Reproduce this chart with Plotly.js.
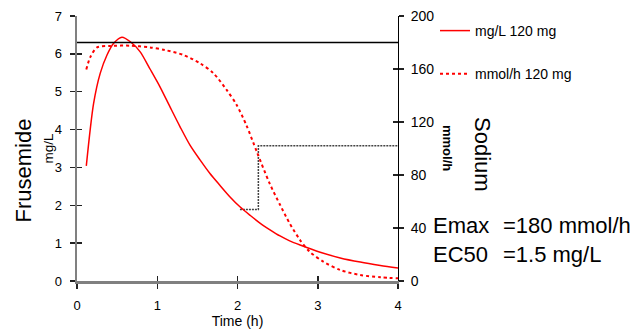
<!DOCTYPE html>
<html>
<head>
<meta charset="utf-8">
<script src="https://cdn.plot.ly/plotly-3.0.1.min.js"></script>
<style>html,body{margin:0;padding:0;background:#fff;}#chart{width:637px;height:333px;}</style>
</head>
<body>
<div id="chart"></div>
<script>
// Frusemide concentration (mg/L, left axis)
const concTime = [0.116, 0.207, 0.29, 0.374, 0.457, 0.56, 0.665, 0.785, 0.91, 1.034, 1.159, 1.283, 1.408, 1.533, 1.657, 1.78, 1.907, 2.03, 2.16, 2.28, 2.40, 2.53, 2.65, 2.78, 3.03, 3.28, 3.53, 3.78, 4.0];
const concMgL = [3.04, 4.69, 5.49, 5.97, 6.28, 6.44, 6.32, 6.06, 5.60, 5.13, 4.60, 4.08, 3.59, 3.20, 2.84, 2.53, 2.22, 1.96, 1.73, 1.53, 1.36, 1.19, 1.06, 0.95, 0.76, 0.61, 0.50, 0.41, 0.34];
// Sodium excretion rate (mmol/h, right axis)
const sodTime = [0.116, 0.166, 0.25, 0.415, 0.665, 0.91, 1.097, 1.325, 1.533, 1.70, 1.865, 1.99, 2.11, 2.24, 2.40, 2.53, 2.65, 2.78, 2.90, 3.07, 3.28, 3.53, 3.78, 4.0];
const sodMmolH = [159.7, 169, 176.3, 177.4, 177.6, 176.3, 174.3, 170.6, 164.3, 156.8, 144.2, 132.8, 117.7, 97.6, 73.7, 57.5, 43.5, 30.9, 22.1, 14.6, 8.3, 4.5, 2.8, 2.0];
// Emax reference line (mmol/h)
const emaxTime = [0, 4];
const emaxLevel = [180, 180];
// EC50 step marker (mg/L)
const stepTime = [2.03, 2.26, 2.26, 4];
const stepMgL = [1.89, 1.89, 3.57, 3.57];
// Labels
const seriesNames = ["mg/L 120 mg", "mmol/h 120 mg"];
const xTicks = [0, 1, 2, 3, 4];
const yLeftTicks = [0, 1, 2, 3, 4, 5, 6, 7];
const yRightTicks = [0, 40, 80, 120, 160, 200];
const paramNames = ["Emax", "EC50"];
const paramValues = ["=180 mmol/h", "=1.5 mg/L"];

const FONT = "Liberation Sans, Arial, sans-serif";
// plot area in pixels
const L = 77, R = 398, T = 16, B = 281;
const px = v => (v - L) / (R - L);
const py = v => (B - v) / (B - T);

const traces = [
  {x: emaxTime, y: emaxLevel, xaxis: 'x', yaxis: 'y2', mode: 'lines',
   line: {color: '#000', width: 1.3}, showlegend: false, hoverinfo: 'skip'},
  {x: stepTime, y: stepMgL, xaxis: 'x', yaxis: 'y', mode: 'lines',
   line: {color: '#444', width: 1.5, dash: '2px,1px'}, showlegend: false, hoverinfo: 'skip'},
  {x: concTime, y: concMgL, xaxis: 'x', yaxis: 'y', mode: 'lines', name: seriesNames[0],
   legendgroup: 'a', line: {color: '#ff0000', width: 1.5, shape: 'spline', smoothing: 0.8}},
  {x: sodTime, y: sodMmolH, xaxis: 'x', yaxis: 'y2', mode: 'lines', name: seriesNames[1],
   legendgroup: 'b', line: {color: '#ff0000', width: 2, dash: 'dot', shape: 'spline', smoothing: 0.8}},
  {x: [null], y: [null], xaxis: 'x2', yaxis: 'y3', showlegend: false, hoverinfo: 'skip'},
  {x: [null], y: [null], xaxis: 'x', yaxis: 'y4', showlegend: false, hoverinfo: 'skip'}
];

const tickCommon = {showgrid: false, zeroline: false, ticklen: 5, tickwidth: 1.5, tickcolor: '#222'};

const layout = {
  width: 637, height: 333,
  margin: {l: L, r: 637 - R, t: T, b: 333 - B},
  paper_bgcolor: '#fff', plot_bgcolor: '#fff',
  font: {family: FONT, color: '#000'},
  showlegend: true,
  legend: {x: px(435), y: py(15), xanchor: 'left', yanchor: 'top', traceorder: 'grouped',
           tracegroupgap: 22, itemwidth: 30, font: {size: 14, family: FONT, color: '#000'},
           bgcolor: 'rgba(0,0,0,0)'},
  xaxis: Object.assign({}, tickCommon, {range: [0, 4], tickvals: xTicks, ticks: 'outside',
           showline: true, linecolor: '#808080', linewidth: 2.5,
           tickfont: {size: 13}, ticklabelstandoff: 6,
           title: {text: 'Time (h)', font: {size: 14}, standoff: 4}}),
  xaxis2: Object.assign({}, tickCommon, {range: [0, 4], tickvals: xTicks, ticks: 'inside',
           overlaying: 'x', anchor: 'y', side: 'bottom', showline: false, showticklabels: false}),
  yaxis: Object.assign({}, tickCommon, {range: [0, 7], tickvals: yLeftTicks, ticks: 'outside',
           showline: true, linecolor: '#808080', linewidth: 2.5,
           tickfont: {size: 13}, ticklabelstandoff: 5}),
  yaxis2: Object.assign({}, tickCommon, {range: [0, 200], tickvals: yRightTicks, ticks: 'outside',
           overlaying: 'y', side: 'right', anchor: 'x', showline: true, linecolor: '#000', linewidth: 1,
           tickfont: {size: 14}, ticklabelstandoff: 4}),
  yaxis3: Object.assign({}, tickCommon, {range: [0, 7], tickvals: yLeftTicks, ticks: 'inside',
           overlaying: 'y', side: 'left', anchor: 'x', showline: false, showticklabels: false}),
  yaxis4: Object.assign({}, tickCommon, {range: [0, 200], tickvals: yRightTicks, ticks: 'inside',
           overlaying: 'y', side: 'right', anchor: 'x', showline: false, showticklabels: false}),
  annotations: [
    {text: 'Frusemide', xref: 'paper', yref: 'paper', x: px(22.5), y: py(171), textangle: -90,
     xanchor: 'center', yanchor: 'middle', showarrow: false, font: {size: 22}},
    {text: 'mg/L', xref: 'paper', yref: 'paper', x: px(47.5), y: py(148), textangle: -90,
     xanchor: 'center', yanchor: 'middle', showarrow: false, font: {size: 13.5}},
    {text: 'Sodium', xref: 'paper', yref: 'paper', x: px(483), y: py(154), textangle: 90,
     xanchor: 'center', yanchor: 'middle', showarrow: false, font: {size: 22}},
    {text: '<b>mmol/h</b>', xref: 'paper', yref: 'paper', x: px(447.5), y: py(147.5), textangle: 90,
     xanchor: 'center', yanchor: 'middle', showarrow: false, font: {size: 13}},
    {text: paramNames[0], xref: 'paper', yref: 'paper', x: px(431), y: py(225.5), xanchor: 'left',
     yanchor: 'middle', showarrow: false, font: {size: 22}},
    {text: paramValues[0], xref: 'paper', yref: 'paper', x: px(500.5), y: py(225.5), xanchor: 'left',
     yanchor: 'middle', showarrow: false, font: {size: 22}},
    {text: paramNames[1], xref: 'paper', yref: 'paper', x: px(431), y: py(254), xanchor: 'left',
     yanchor: 'middle', showarrow: false, font: {size: 22}},
    {text: paramValues[1], xref: 'paper', yref: 'paper', x: px(500.5), y: py(254), xanchor: 'left',
     yanchor: 'middle', showarrow: false, font: {size: 22}}
  ]
};

Plotly.newPlot('chart', traces, layout, {staticPlot: true, displayModeBar: false});
</script>
</body>
</html>
